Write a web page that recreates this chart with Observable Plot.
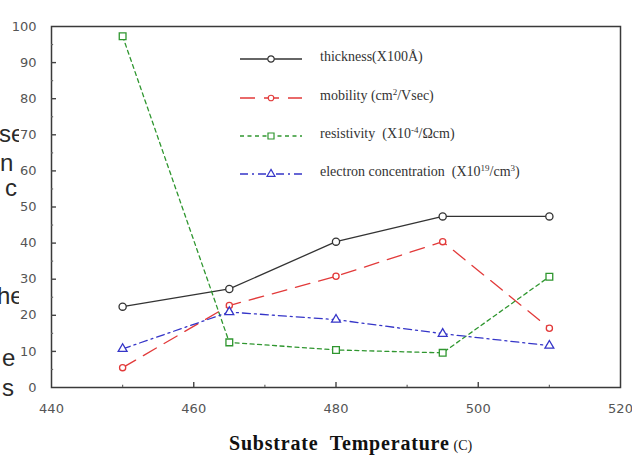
<!DOCTYPE html>
<html><head><meta charset="utf-8">
<script src="https://cdn.jsdelivr.net/npm/d3@7"></script>
<script src="https://cdn.jsdelivr.net/npm/@observablehq/plot@0.6"></script>
<style>
html,body{margin:0;padding:0;background:#fff;}
#wrap{position:relative;width:632px;height:455px;overflow:hidden;background:#fff;}
#chart svg{display:block;}
#title{position:absolute;left:229px;top:432px;white-space:pre;color:#111;}
#title .main{font-family:"Liberation Serif",serif;font-weight:900;font-size:20px;letter-spacing:0.8px;}
#title .unit{font-family:"Liberation Serif",serif;font-size:14px;margin-left:4px;}
#legend{position:absolute;left:0;top:0;width:632px;height:455px;pointer-events:none;}
#legend .lab{position:absolute;left:320px;font-family:"Liberation Serif",serif;font-size:14px;color:#333;white-space:pre;line-height:1;}
#legend sup{font-size:9px;vertical-align:5px;line-height:0;}
#stray{position:absolute;left:0;top:0;width:19px;height:455px;overflow:hidden;z-index:2;}
#stray div{position:absolute;font-family:"Liberation Sans",Arial,sans-serif;font-size:24px;color:#2a2a2a;line-height:1;white-space:pre;}
</style></head><body>
<div id="wrap">
  <div id="chart"></div>
  <div id="title"><span class="main">Substrate  Temperature</span><span class="unit">(C)</span></div>
  <div id="legend"></div>
  <div id="stray"></div>
</div>
<script>
// ---- data ----
const temps = [450, 465, 480, 495, 510];
const thickness = [22.4, 27.3, 40.4, 47.4, 47.4];
const mobility = [5.5, 22.7, 30.8, 40.4, 16.4];
const resistivity = [97.3, 12.5, 10.4, 9.6, 30.7];
const electronConc = [10.7, 20.9, 18.8, 14.9, 11.6];
const yTicks = [0, 10, 20, 30, 40, 50, 60, 70, 80, 90, 100];
const xTicks = [440, 460, 480, 500, 520];
const seriesLabels = [
  "thickness(X100Å)",
  "mobility (cm<sup>2</sup>/Vsec)",
  "resistivity  (X10<sup>-4</sup>/Ωcm)",
  "electron concentration  (X10<sup>19</sup>/cm<sup>3</sup>)"
];
const strayText = ["se", "n", "c", "he", "e", "s"];

// ---- styles ----
const styles = [
  {values: thickness, color: "#333333", dash: null, symbol: "circle", r: 3.6},
  {values: mobility, color: "#e23a3a", dash: "15,9", symbol: "circle", r: 3.1},
  {values: resistivity, color: "#2f962f", dash: "4,3.5", symbol: "square", r: 3.8},
  {values: electronConc, color: "#3535c8", dash: "8,4,2,4", symbol: "triangle", r: 3.3}
];

const seriesData = styles.map((s, k) => temps.map((t, i) => ({temp: t, value: s.values[i], k})));

const minorY = d3.range(5, 100, 10);
const minorX = [450, 470, 490, 510];
const majorX = [460, 480, 500];
const majorY = yTicks.filter(v => v > 0 && v < 100);

const marks = [
  Plot.frame({stroke: "#3a3a3a", strokeWidth: 1.5}),
  Plot.ruleY(majorY, {x1: 440, x2: 440.7, stroke: "#444", strokeWidth: 1.4}),
  Plot.ruleY(minorY, {x1: 440, x2: 440.3, stroke: "#666", strokeWidth: 1.2}),
  Plot.ruleX(majorX, {y1: 0, y2: 1.4, stroke: "#444", strokeWidth: 1.4}),
  Plot.ruleX(minorX, {y1: 0, y2: 0.6, stroke: "#666", strokeWidth: 1.2}),
  Plot.axisY({ticks: yTicks, tickSize: 0, tickPadding: 15, label: null}),
  Plot.axisX({ticks: xTicks, tickSize: 0, tickPadding: 16, label: null, tickFormat: d => String(d)})
];
styles.forEach((s, k) => {
  marks.push(Plot.line(seriesData[k], {x: "temp", y: "value", stroke: s.color, strokeWidth: 1.3, strokeDasharray: s.dash || undefined}));
});
styles.forEach((s, k) => {
  marks.push(Plot.dot(seriesData[k], {x: "temp", y: "value", symbol: s.symbol, r: s.r, stroke: s.color, fill: "white", strokeWidth: 1.3}));
});

const chart = Plot.plot({
  width: 632,
  height: 425,
  marginLeft: 51,
  marginRight: 12,
  marginTop: 26,
  marginBottom: 38,
  x: {domain: [440, 520]},
  y: {domain: [0, 100]},
  style: {fontFamily: "DejaVu Sans, sans-serif", fontSize: "13px", color: "#555", background: "white"},
  marks
});
document.getElementById("chart").appendChild(chart);

// ---- legend ----
const legend = document.getElementById("legend");
const rowY = [59, 98, 136, 174];
const NS = "http://www.w3.org/2000/svg";
const lsvg = document.createElementNS(NS, "svg");
lsvg.setAttribute("width", 632); lsvg.setAttribute("height", 455);
lsvg.style.position = "absolute"; lsvg.style.left = "0"; lsvg.style.top = "0";
legend.appendChild(lsvg);
const sym = {circle: d3.symbolCircle, square: d3.symbolSquare, triangle: d3.symbolTriangle};
styles.forEach((s, k) => {
  const y = rowY[k];
  const ln = document.createElementNS(NS, "line");
  ln.setAttribute("x1", 240); ln.setAttribute("x2", 302);
  ln.setAttribute("y1", y); ln.setAttribute("y2", y);
  ln.setAttribute("stroke", s.color); ln.setAttribute("stroke-width", 1.3);
  if (s.dash) ln.setAttribute("stroke-dasharray", s.dash);
  lsvg.appendChild(ln);
  const p = document.createElementNS(NS, "path");
  p.setAttribute("d", d3.symbol(sym[s.symbol], Math.PI * s.r * s.r * 0.8)());
  p.setAttribute("transform", `translate(271,${y})`);
  p.setAttribute("fill", "white"); p.setAttribute("stroke", s.color); p.setAttribute("stroke-width", 1.2);
  lsvg.appendChild(p);
  const t = document.createElement("div");
  t.className = "lab";
  t.innerHTML = seriesLabels[k];
  t.style.top = (y - 9) + "px";
  legend.appendChild(t);
});

// ---- stray text fragments at the left edge ----
const strayPos = [[122, -1], [151, 0], [176, 5], [284, -3], [346, 2], [376, 2]];
const stray = document.getElementById("stray");
strayText.forEach((s, i) => {
  const d = document.createElement("div");
  d.textContent = s;
  d.style.top = strayPos[i][0] + "px";
  d.style.left = strayPos[i][1] + "px";
  stray.appendChild(d);
});
</script>
</body></html>
